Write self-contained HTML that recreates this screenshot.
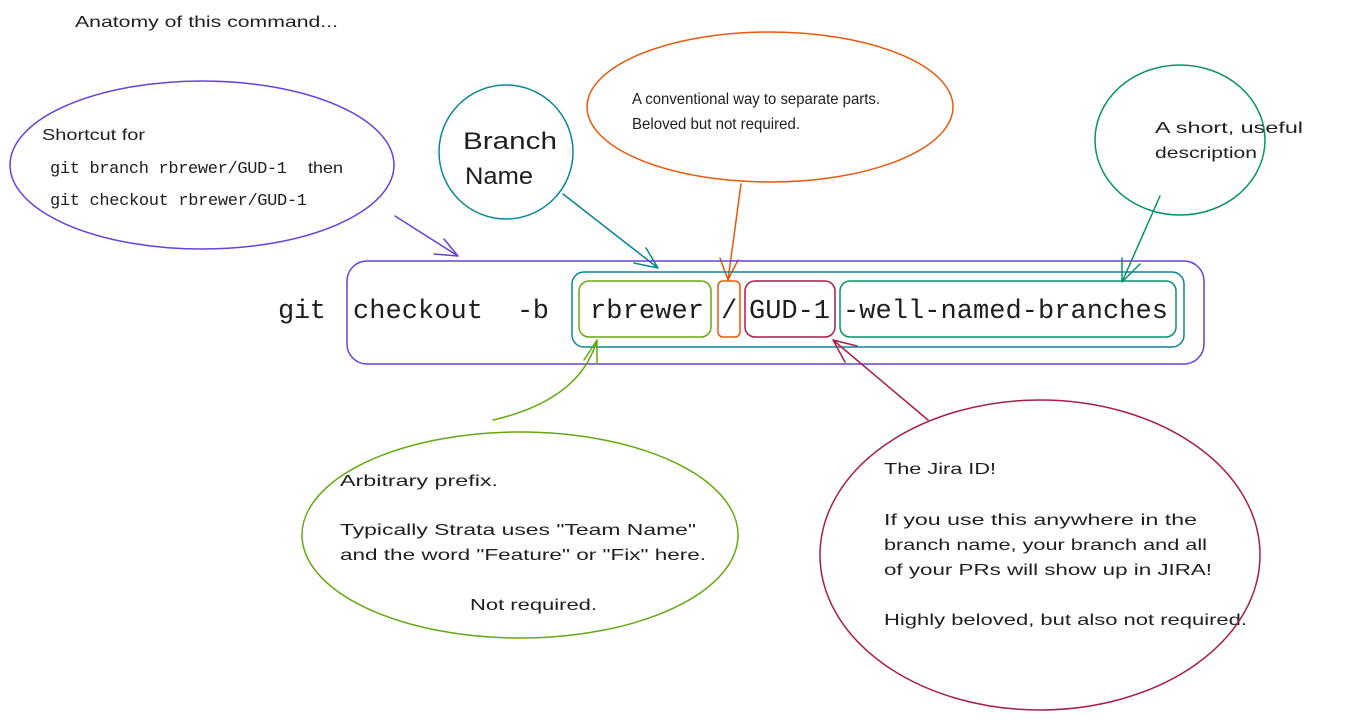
<!DOCTYPE html>
<html><head><meta charset="utf-8"><style>
html,body{margin:0;padding:0;background:#fff;}
svg{display:block}
.h{font-family:"Liberation Sans",sans-serif;fill:#1e1e1e}
.m{font-family:"Liberation Mono",monospace;fill:#1e1e1e}
</style></head><body>
<svg width="1357" height="724" viewBox="0 0 1357 724" xmlns="http://www.w3.org/2000/svg" fill="none" stroke-linecap="round" stroke-linejoin="round">
<g class="h" font-size="16" stroke="none">
<text x="75" y="27" textLength="263" lengthAdjust="spacingAndGlyphs">Anatomy of this command...</text>
<text x="42" y="140" textLength="103" lengthAdjust="spacingAndGlyphs">Shortcut for</text>
<text x="308" y="173" textLength="35" lengthAdjust="spacingAndGlyphs">then</text>
<text x="632" y="104" textLength="248" lengthAdjust="spacingAndGlyphs">A conventional way to separate parts.</text>
<text x="632" y="129" textLength="168" lengthAdjust="spacingAndGlyphs">Beloved but not required.</text>
<text x="1155" y="133" textLength="148" lengthAdjust="spacingAndGlyphs">A short, useful</text>
<text x="1155" y="158" textLength="102" lengthAdjust="spacingAndGlyphs">description</text>
<text x="340" y="486" textLength="158" lengthAdjust="spacingAndGlyphs">Arbitrary prefix.</text>
<text x="340" y="535" textLength="356" lengthAdjust="spacingAndGlyphs">Typically Strata uses "Team Name"</text>
<text x="340" y="560" textLength="366" lengthAdjust="spacingAndGlyphs">and the word "Feature" or "Fix" here.</text>
<text x="470" y="610" textLength="127" lengthAdjust="spacingAndGlyphs">Not required.</text>
<text x="884" y="474" textLength="112" lengthAdjust="spacingAndGlyphs">The Jira ID!</text>
<text x="884" y="525" textLength="313" lengthAdjust="spacingAndGlyphs">If you use this anywhere in the</text>
<text x="884" y="550" textLength="323" lengthAdjust="spacingAndGlyphs">branch name, your branch and all</text>
<text x="884" y="575" textLength="328" lengthAdjust="spacingAndGlyphs">of your PRs will show up in JIRA!</text>
<text x="884" y="625" textLength="363" lengthAdjust="spacingAndGlyphs">Highly beloved, but also not required.</text>
<text x="463" y="149" font-size="24" textLength="94" lengthAdjust="spacingAndGlyphs">Branch</text>
<text x="465" y="184" font-size="24" textLength="68" lengthAdjust="spacingAndGlyphs">Name</text>
</g>

<ellipse cx="202" cy="165" rx="192" ry="84" stroke="#6741d9" stroke-width="1.5"/>
<text class="m" x="50" y="173" font-size="17" textLength="237">git branch rbrewer/GUD-1</text>
<text class="m" x="50" y="205" font-size="17" textLength="257">git checkout rbrewer/GUD-1</text>
<path d="M395 216 L458 256 M458 256 L434 254 M458 256 L444 239" stroke="#6741d9" stroke-width="1.5"/>

<circle cx="506" cy="152" r="67" stroke="#0c8599" stroke-width="1.5"/>
<path d="M563 194 L658 268 M658 268 L634 263 M658 268 L646 248" stroke="#0c8599" stroke-width="1.5"/>

<ellipse cx="770" cy="107" rx="183" ry="75" stroke="#e8590c" stroke-width="1.5"/>
<path d="M741 184 L728 280 M728 280 L720 258 M728 280 L738 260" stroke="#e8590c" stroke-width="1.5"/>

<ellipse cx="1180" cy="140" rx="85" ry="75" stroke="#099268" stroke-width="1.5"/>
<path d="M1160 196 L1122 282 M1122 282 L1122 258 M1122 282 L1140 264" stroke="#099268" stroke-width="1.5"/>

<rect x="347" y="261" width="857" height="103" rx="20" stroke="#6741d9" stroke-width="1.5"/>
<rect x="572" y="272" width="612" height="75" rx="12" stroke="#0c8599" stroke-width="1.5"/>
<rect x="579" y="281" width="132" height="56" rx="10" stroke="#66a80f" stroke-width="1.5"/>
<rect x="718" y="281" width="22" height="56" rx="5" stroke="#e8590c" stroke-width="1.5"/>
<rect x="745" y="281" width="90" height="56" rx="10" stroke="#a61e4d" stroke-width="1.5"/>
<rect x="840" y="281" width="336" height="56" rx="10" stroke="#099268" stroke-width="1.5"/>
<g class="m" font-size="27">
<text x="278" y="318" textLength="48">git</text>
<text x="353" y="318" textLength="130">checkout</text>
<text x="517" y="318" textLength="32">-b</text>
<text x="590" y="318" textLength="114">rbrewer</text>
<text x="721" y="318">/</text>
<text x="749" y="318" textLength="81">GUD-1</text>
<text x="843" y="318" textLength="325">-well-named-branches</text>
</g>

<ellipse cx="520" cy="535" rx="218" ry="103" stroke="#66a80f" stroke-width="1.5"/>
<path d="M493 420 Q580 400 597 340 M597 340 L584 360 M597 340 L597 364" stroke="#66a80f" stroke-width="1.5"/>

<ellipse cx="1040" cy="555" rx="220" ry="155" stroke="#a61e4d" stroke-width="1.5"/>
<path d="M928 420 L833 340 M833 340 L857 346 M833 340 L845 362" stroke="#a61e4d" stroke-width="1.5"/>
</svg>
</body></html>
